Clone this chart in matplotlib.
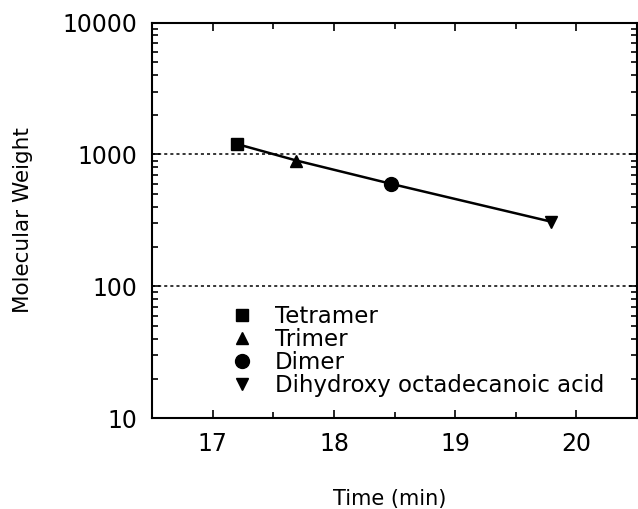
import matplotlib
matplotlib.use("Agg")
import matplotlib.pyplot as plt
from matplotlib.ticker import FixedLocator, LogLocator, FuncFormatter, NullFormatter

plt.rcParams["font.family"] = ["DejaVu Sans"]

# data
species = ["Tetramer", "Trimer", "Dimer", "Dihydroxy octadecanoic acid"]
markers = ["s", "^", "o", "v"]
time_min = [17.20, 17.69, 18.47, 19.79]
mol_weight = [1200, 900, 600, 310]

x_ticks = [17, 18, 19, 20]
y_ticks = [10, 100, 1000, 10000]

fig = plt.figure(figsize=(6.38, 5.09), dpi=100)
ax = fig.add_axes([0.2387, 0.1782, 0.7593, 0.7774])

ax.plot(time_min, mol_weight, color="black", lw=1.8, zorder=2)
sizes = {"s": 8, "^": 9, "o": 10, "v": 9}
for name, m, t, w in zip(species, markers, time_min, mol_weight):
    ax.plot([t], [w], marker=m, ms=sizes[m], color="black", linestyle="none",
            label=name, zorder=3)

ax.set_yscale("log")
ax.set_xlim(16.5, 20.5)
ax.set_ylim(10, 10000)

ax.xaxis.set_major_locator(FixedLocator(x_ticks))
ax.xaxis.set_minor_locator(FixedLocator([16.5 + 0.5 * i for i in range(1, 8)]))
ax.yaxis.set_major_locator(FixedLocator(y_ticks))
ax.yaxis.set_minor_locator(LogLocator(base=10, subs=range(2, 10)))
ax.yaxis.set_major_formatter(FuncFormatter(lambda v, p: f"{int(round(v))}"))
ax.yaxis.set_minor_formatter(NullFormatter())

ax.tick_params(which="both", direction="in", top=True, right=True,
               labelsize=17, width=1.2)
ax.tick_params(which="major", length=6)
ax.tick_params(which="minor", length=4)
ax.tick_params(axis="x", pad=10)
ax.tick_params(axis="y", pad=11)

for s in ax.spines.values():
    s.set_linewidth(1.5)

ax.grid(True, which="major", axis="y", color="black", linestyle=(0, (2, 2)), lw=1.1)

ax.set_xlabel("Time (min)", fontsize=15, va="center")
ax.set_ylabel("Molecular Weight", fontsize=15.5, va="center")
ax.xaxis.set_label_coords(0.49, -0.204)
ax.yaxis.set_label_coords(-0.267, 0.5)

leg = ax.legend(loc="center left", bbox_to_anchor=(0.161, 0.169), frameon=False,
                fontsize=16.5, handlelength=1.0, handletextpad=0.95,
                labelspacing=0.0, borderpad=0, borderaxespad=0)

fig.savefig("out.png", dpi=100)
